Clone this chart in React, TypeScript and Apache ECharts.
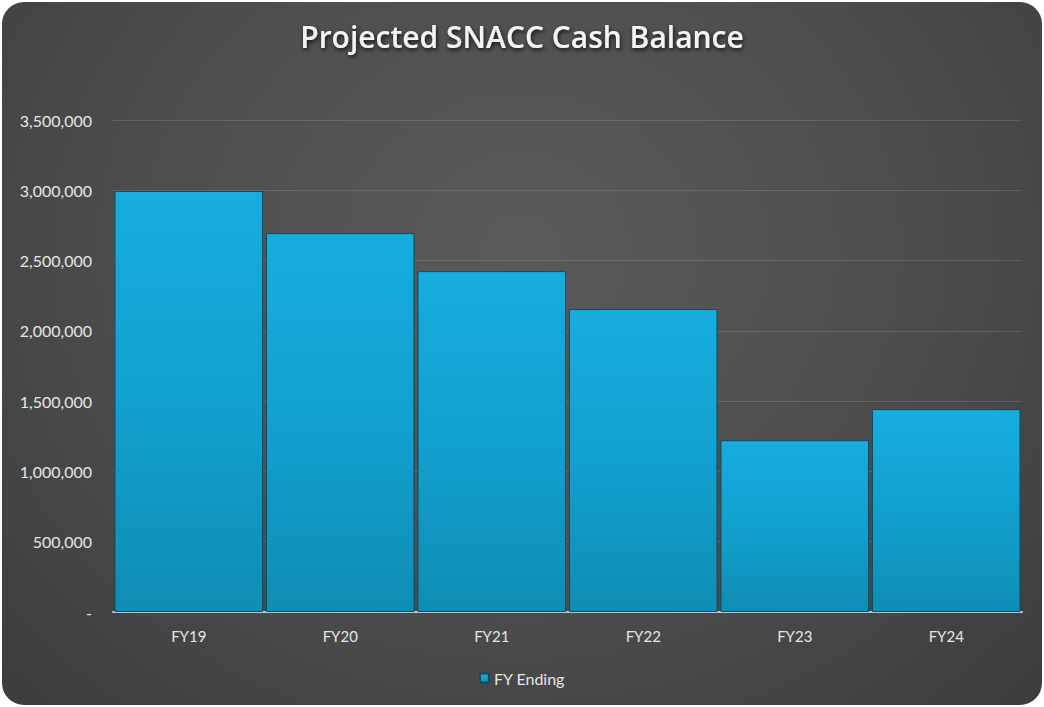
import React, { useEffect, useRef } from "react";
import * as echarts from "echarts";

const categories = ["FY19", "FY20", "FY21", "FY22", "FY23", "FY24"];
const cashBalance = [2995000, 2695000, 2425000, 2155000, 1222000, 1443000];
const seriesName = "FY Ending";
const titleText = "Projected SNACC Cash Balance";

export default function App() {
  const ref = useRef<HTMLDivElement>(null);
  useEffect(() => {
    document.body.style.margin = "0";
    document.body.style.background = "#ffffff";
    const chart = echarts.init(ref.current!, null, { renderer: "svg" });
    chart.setOption({
      animation: false,
      backgroundColor: "transparent",
      textStyle: { fontFamily: "Lato, 'Open Sans', sans-serif" },
      title: {
        text: titleText,
        left: "center",
        top: 16,
        textStyle: {
          color: "#f4f4f4",
          fontSize: 30,
          fontWeight: 600,
          fontFamily: "'Open Sans', Lato, sans-serif",
          textShadowColor: "rgba(0,0,0,0.8)",
          textShadowBlur: 4,
          textShadowOffsetX: 1,
          textShadowOffsetY: 2,
        },
      },
      legend: {
        bottom: 16,
        left: "center",
        itemWidth: 9,
        itemHeight: 9,
        itemGap: 4,
        textStyle: { color: "#e6e6e6", fontSize: 16 },
        data: [seriesName],
      },
      grid: { left: 113, right: 22, top: 120, bottom: 95 },
      xAxis: {
        type: "category",
        data: categories,
        axisLine: { lineStyle: { color: "#b8c4c8", width: 2 } },
        axisTick: { show: false },
        axisLabel: { color: "#e6e6e6", fontSize: 15, margin: 16 },
      },
      yAxis: {
        type: "value",
        min: 0,
        max: 3500000,
        interval: 500000,
        axisLine: { show: false },
        axisTick: { show: false },
        splitLine: { lineStyle: { color: "rgba(255,255,255,0.12)", width: 1 } },
        axisLabel: {
          color: "#e6e6e6",
          fontSize: 16,
          margin: 21,
          formatter: (v: number) => (v === 0 ? "-" : v.toLocaleString("en-US")),
        },
      },
      series: [
        {
          name: seriesName,
          type: "bar",
          data: cashBalance,
          barCategoryGap: "2%",
          itemStyle: {
            color: new echarts.graphic.LinearGradient(0, 0, 0, 1, [
              { offset: 0, color: "#17addf" },
              { offset: 0.5, color: "#12a0cf" },
              { offset: 1, color: "#0f8db4" },
            ]),
            borderColor: "#0a4f66",
            borderWidth: 1,
          },
        },
      ],
    });
    return () => chart.dispose();
  }, []);
  return (
    <div
      style={{
        position: "absolute",
        left: 0,
        top: 0,
        width: 1044,
        height: 707,
        background: "#fff",
      }}
    >
      <div
        style={{
          position: "absolute",
          left: 2,
          top: 2,
          width: 1040,
          height: 703,
          borderRadius: 22,
          background:
            "radial-gradient(ellipse at 50% 35%, #5a5a5a 0%, #4e4e4e 50%, #3c3c3c 100%)",
          overflow: "hidden",
        }}
      />
      <div ref={ref} style={{ position: "absolute", left: 0, top: 0, width: 1044, height: 707 }} />
    </div>
  );
}
